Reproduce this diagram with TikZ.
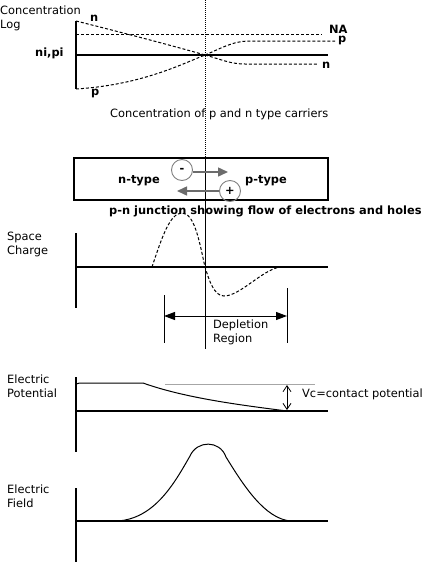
\documentclass[tikz,border=0pt]{standalone}
\usepackage{fontspec}
\setmainfont{DejaVu Sans}
\usetikzlibrary{arrows.meta}
\begin{document}
\begin{tikzpicture}[x=1pt,y=-1pt,
  font=\fontsize{11.4}{14}\selectfont,
  axis/.style={line width=1.1pt},
  dashcurve/.style={line width=1pt, dash pattern=on 3pt off 2pt},
  lbl/.style={anchor=base west, inner sep=0pt},
  blbl/.style={lbl, font=\fontsize{11.4}{14}\selectfont\bfseries},
  carrier/.style={circle, draw=gray, line width=0.9pt, minimum size=21pt, inner sep=0pt, font=\fontsize{11.4}{14}\selectfont\bfseries},
  grayarrow/.style={draw=gray!85!black, line width=1.5pt, -{Triangle[length=10pt,width=9pt]}, gray!85!black},
  dimarrow/.style={line width=1pt, {Triangle[length=11pt,width=8pt]}-{Triangle[length=11pt,width=8pt]}},
  vcarrow/.style={line width=0.8pt, {Straight Barb[length=6pt,width=8pt]}-{Straight Barb[length=6pt,width=8pt]}}
]
\useasboundingbox (0,0) rectangle (425,563);

% ---------- junction line ----------
\coordinate (jTop) at (205,0);
\coordinate (jBox) at (205,158);
\coordinate (jBot) at (205,349);
\draw[line width=0.8pt, dash pattern=on 1pt off 1pt] (jTop) -- (jBox);
\draw[line width=1pt] (jBox) -- (jBot);

% ---------- concentration panel ----------
\node[lbl] (cl1) at (0,14) {Concentration};
\node[lbl] (cl2) at (0,28) {Log};
\node[blbl] (nipi) at (35,56) {ni,pi};
\node[blbl] (nL) at (90,21) {n};
\node[blbl] (pL) at (91,95) {p};
\node[blbl] (NA) at (329,33.5) {NA};
\node[blbl] (pR) at (338,42) {p};
\node[blbl] (nR) at (322,68) {n};
\node[lbl] (ctitle) at (110,117) {Concentration of p and n type carriers};

\coordinate (cAxT) at (76,21);
\coordinate (cAxB) at (76,89);
\coordinate (cX) at (205,55);
\draw[axis] (cAxT) -- (cAxB);
\draw[axis] (76,55) -- (328,55);
\draw[dashcurve] (76,34) -- (322,34);
\draw[dashcurve] (cAxT) .. controls (120,32) and (170,45) .. (cX);
\draw[dashcurve] (cAxB) .. controls (140,85) and (180,65) .. (cX);
\draw[dashcurve] (cX) .. controls (220,49) and (232,41) .. (250,41) -- (335,41);
\draw[dashcurve] (cX) .. controls (220,59) and (230,64) .. (245,64) -- (318,64);

% ---------- junction box ----------
\draw[line width=2.4pt] (74,158) rectangle (328,200);
\node[blbl] (ntype) at (118,183) {n-type};
\node[blbl] (ptype) at (245,183) {p-type};
\node[carrier] (elec) at (182,170) {-};
\node[carrier] (hole) at (230,191) {+};
\coordinate (eTail) at (193,172);
\coordinate (eTip) at (228,172);
\coordinate (hTail) at (219,191);
\coordinate (hTip) at (177,191);
\draw[grayarrow] (eTail) -- (eTip);
\draw[grayarrow] (hTail) -- (hTip);
\node[blbl] (jtitle) at (109,214) {p-n junction showing flow of electrons and holes};

% ---------- space charge ----------
\node[lbl] (sc1) at (7,240) {Space};
\node[lbl] (sc2) at (7,254) {Charge};
\draw[axis] (76,233) -- (76,308);
\draw[axis] (76,267) -- (328,267);
\draw[dashcurve] (152,267) .. controls (162,237) and (170,213) .. (182,213)
  .. controls (195,213) and (200,245) .. (205,267)
  .. controls (209,280) and (214,296) .. (224,296)
  .. controls (240,296) and (262,270) .. (280,267);
\coordinate (dL) at (164,316);
\coordinate (dR) at (287,316);
\draw[line width=1pt] (164,295) -- (164,343);
\draw[line width=1pt] (287,288) -- (287,343);
\draw[dimarrow] (dL) -- (dR);
\node[lbl] (dep1) at (213,328) {Depletion};
\node[lbl] (dep2) at (213,342) {Region};

% ---------- electric potential ----------
\node[lbl] (ep1) at (7,383) {Electric};
\node[lbl] (ep2) at (7,397) {Potential};
\draw[axis] (76,377) -- (76,452);
\draw[axis] (76,411) -- (328,411);
\draw[line width=1pt] (76,384) .. controls (78,383) and (80,383) .. (84,383) -- (143,383)
  .. controls (185,398) and (240,405) .. (287,411);
\draw[gray!70, line width=0.8pt] (165,384) -- (315,384);
\coordinate (vcT) at (287,385);
\coordinate (vcB) at (287,410);
\draw[vcarrow] (vcT) -- (vcB);
\node[lbl] (vc) at (302,397) {Vc=contact potential};

% ---------- electric field ----------
\node[lbl] (ef1) at (7,493) {Electric};
\node[lbl] (ef2) at (7,507) {Field};
\draw[axis] (76,488) -- (76,562);
\draw[axis] (76,521) -- (328,521);
\draw[line width=1pt] (117,521) .. controls (155,519) and (175,482) .. (190,456)
  .. controls (197,440) and (220,440) .. (226,457)
  .. controls (245,488) and (265,518) .. (290,521);
\end{tikzpicture}
\end{document}
